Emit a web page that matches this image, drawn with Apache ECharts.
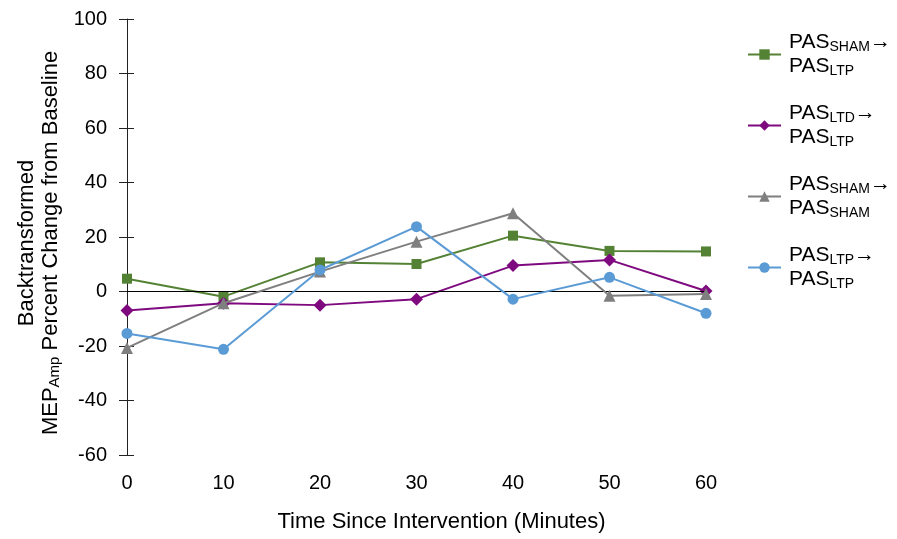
<!DOCTYPE html>
<html>
<head>
<meta charset="utf-8">
<script src="https://cdn.jsdelivr.net/npm/echarts@6/dist/echarts.min.js"></script>
<style>
html,body{margin:0;padding:0;background:#fff;}
#chart{width:897px;height:539px;}
</style>
</head>
<body>
<div id="chart"></div>
<script>
// ---- data ----
const timeMinutes = [0, 10, 20, 30, 40, 50, 60];
const yTicks = [-60, -40, -20, 0, 20, 40, 60, 80, 100];
const seriesNames = ['SHAM_LTP', 'LTD_LTP', 'SHAM_SHAM', 'LTP_LTP'];
const shamToLtp  = [4.7, -1.9, 10.7, 10.1, 20.5, 14.9, 14.7];
const ltdToLtp   = [-7.0, -4.3, -5.0, -2.8, 9.5, 11.6, 0.2];
const shamToSham = [-20.7, -4.3, 7.3, 18.3, 28.7, -1.6, -0.9];
const ltpToLtp   = [-15.4, -21.2, 7.9, 23.8, -2.8, 5.2, -8.0];
const legendLabels = {
  SHAM_LTP:  '{f|PAS}{s|SHAM}{p|→}\n{f|PAS}{s|LTP}',
  LTD_LTP:   '{f|PAS}{s|LTD}{p|→}\n{f|PAS}{s|LTP}',
  SHAM_SHAM: '{f|PAS}{s|SHAM}{p|→}\n{f|PAS}{s|SHAM}',
  LTP_LTP:   '{f|PAS}{s|LTP}{p|→}\n{f|PAS}{s|LTP}'
};
const xTitle = 'Time Since Intervention (Minutes)';
const yTitle = '{a|Backtransformed}\n{a|MEP}{b|Amp}{a| Percent Change from Baseline}';

// ---- styles ----
const FONT = '"Liberation Sans", Arial, sans-serif';
const colors = ['#548235', '#7F0A7F', '#7F7F7F', '#5B9BD5'];
const symbols = ['rect', 'diamond', 'triangle', 'circle'];
const symbolSizes = [10, 13, 12, 11];
const values = [shamToLtp, ltdToLtp, shamToSham, ltpToLtp];

const chart = echarts.init(document.getElementById('chart'), null, {renderer: 'canvas'});

const series = seriesNames.map((name, i) => ({
  name: name,
  type: 'line',
  data: timeMinutes.map((t, j) => [t, values[i][j]]),
  symbol: symbols[i],
  symbolSize: symbolSizes[i],
  showAllSymbol: true,
  lineStyle: {color: colors[i], width: 2},
  itemStyle: {color: colors[i]},
  z: 3 + i
}));
series.unshift({
  name: 'zero',
  type: 'line',
  data: [],
  z: 1,
  markLine: {
    silent: true,
    symbol: 'none',
    label: {show: false},
    lineStyle: {color: '#000', width: 1, type: 'solid'},
    data: [{yAxis: 0}],
    animation: false
  }
});

const option = {
  animation: false,
  backgroundColor: '#fff',
  grid: {left: 127, right: 191, top: 19, bottom: 84, containLabel: false},
  xAxis: {
    type: 'value',
    min: 0, max: 60, interval: 10,
    axisLine: {show: false},
    axisTick: {show: false},
    splitLine: {show: false},
    axisLabel: {color: '#000', fontSize: 20, fontFamily: FONT, margin: 18}
  },
  yAxis: [{
    type: 'value',
    min: -60, max: 100, interval: 20,
    axisLine: {show: true, onZero: false, lineStyle: {color: '#222', width: 1}},
    axisTick: {show: false},
    splitLine: {show: false},
    axisLabel: {color: '#000', fontSize: 20, fontFamily: FONT, margin: 20,
      formatter: v => yTicks.includes(v) ? String(v) : ''}
  }, {
    type: 'value',
    position: 'left',
    offset: -7,
    min: -60, max: 100, interval: 20,
    axisLine: {show: false},
    axisTick: {show: true, inside: false, length: 15, lineStyle: {color: '#222'}},
    splitLine: {show: false},
    axisLabel: {show: false}
  }],
  legend: {
    orient: 'vertical',
    left: 742, top: 27,
    itemWidth: 33, itemHeight: 13, itemGap: 24.5,
    data: seriesNames,
    formatter: n => legendLabels[n],
    textStyle: {
      color: '#000', fontFamily: FONT, fontSize: 21,
      rich: {
        f: {fontSize: 21, lineHeight: 24, fontFamily: FONT, color: '#000', padding: [0, 0, 0, 3]},
        p: {fontSize: 21, lineHeight: 24, fontFamily: FONT, color: '#000'},
        s: {fontSize: 14, lineHeight: 19, fontFamily: FONT, color: '#000', verticalAlign: 'bottom'}
      }
    }
  },
  graphic: [{
    type: 'text',
    x: 39, y: 243,
    rotation: Math.PI / 2,
    style: {
      text: yTitle,
      align: 'center', verticalAlign: 'middle',
      fill: '#000', fontFamily: FONT, fontSize: 22,
      rich: {
        a: {fontSize: 22, lineHeight: 23.5, fontFamily: FONT, fill: '#000'},
        b: {fontSize: 15, lineHeight: 10, fontFamily: FONT, fill: '#000', verticalAlign: 'bottom'}
      }
    }
  }, {
    type: 'text',
    x: 441.5, y: 522,
    style: {
      text: xTitle,
      align: 'center', verticalAlign: 'middle',
      fill: '#000', fontFamily: FONT, fontSize: 22
    }
  }],
  series: series
};
chart.setOption(option);
</script>
</body>
</html>
